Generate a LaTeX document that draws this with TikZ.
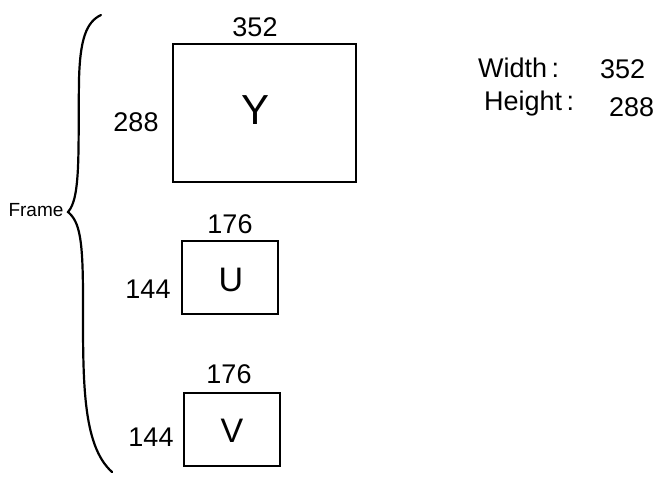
\documentclass[tikz,border=0pt]{standalone}
\usepackage{fontspec}
\setmainfont{Liberation Sans}
\begin{document}
\begin{tikzpicture}[x=1pt,y=-1pt,
  box/.style={draw=black,line width=1.5pt,inner sep=0pt},
  lbl/.style={inner sep=0pt,font=\fontsize{27}{27}\selectfont},
  big/.style={inner sep=0pt,font=\fontsize{42}{42}\selectfont},
  side/.style={inner sep=0pt,anchor=west,font=\fontsize{27}{27}\selectfont}]
\useasboundingbox (0,0) rectangle (658,477);
% Y
\node[box,minimum width=183pt,minimum height=138pt] (ybox) at (264.5,113) {};
\node[big] (yl) at (256,110) {Y};
\node[lbl] (yw) at (255,27) {352};
\node[lbl] (yh) at (136,122) {288};
% U
\node[box,minimum width=96pt,minimum height=73pt] (ubox) at (230,277.5) {};
\node[big,font=\fontsize{34}{34}\selectfont] (ul) at (231,280) {U};
\node[lbl] (uw) at (230,224) {176};
\node[lbl] (uh) at (148,289) {144};
% V
\node[box,minimum width=96pt,minimum height=73pt] (vbox) at (232,429.5) {};
\node[big,font=\fontsize{34}{34}\selectfont] (vl) at (232,431) {V};
\node[lbl] (vw) at (229,374) {176};
\node[lbl] (vh) at (151,437) {144};
% right info
\node[side] (wt) at (478,68) {Width\,:};
\node[side] (wv) at (600,69) {352};
\node[side] (ht) at (484,104) {Height\,:};
\node[side] (hv) at (609,107) {288};
% brace
\node[inner sep=0pt,font=\fontsize{19}{19}\selectfont] (fr) at (36,210) {Frame};
\coordinate (btop) at (101,15);
\coordinate (btip) at (68,212);
\coordinate (bbot) at (112,472);
\draw[line width=2.2pt,line cap=round]
  (btop) .. controls (86,22) and (80,40) .. (79,80)
  .. controls (78,150) and (81,198) .. (btip)
  .. controls (80,222) and (83,240) .. (83,300)
  .. controls (83,380) and (82,445) .. (bbot);
\end{tikzpicture}
\end{document}
